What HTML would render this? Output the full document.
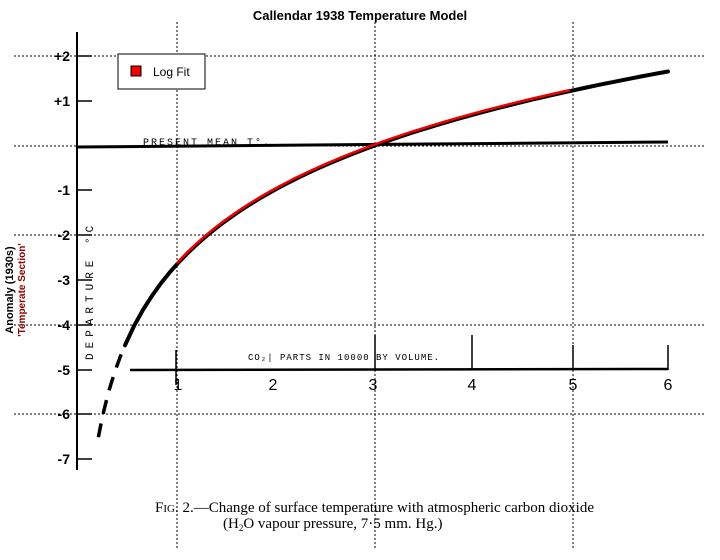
<!DOCTYPE html>
<html><head><meta charset="utf-8"><style>
body{margin:0;background:#fff}
svg{display:block}
.h{font-family:"Liberation Sans",sans-serif;font-weight:bold}
.s{font-family:"Liberation Serif",serif}
</style></head><body>
<svg id="c" width="720" height="560" viewBox="0 0 720 560" xmlns="http://www.w3.org/2000/svg">
<rect width="720" height="560" fill="#fff"/>
<text x="360" y="20" text-anchor="middle" class="h" font-size="13">Callendar 1938 Temperature Model</text>
<g stroke="#000" stroke-width="1" stroke-dasharray="2,2">
<line x1="14" y1="56" x2="706" y2="56"/><line x1="14" y1="146" x2="706" y2="146"/>
<line x1="14" y1="235" x2="706" y2="235"/><line x1="14" y1="325" x2="706" y2="325"/>
<line x1="14" y1="414" x2="706" y2="414"/>
<line x1="177" y1="22" x2="177" y2="548"/><line x1="375" y1="22" x2="375" y2="548"/>
<line x1="573" y1="22" x2="573" y2="548"/>
</g>
<g stroke="#000" fill="none">
<line x1="77" y1="32" x2="77" y2="470" stroke-width="2"/>
<line x1="77" y1="147" x2="668" y2="142" stroke-width="3"/>
<line x1="130" y1="370" x2="668" y2="369" stroke-width="2.5"/>
<g stroke-width="1.5">
<line x1="77" y1="56" x2="92" y2="56"/><line x1="77" y1="101" x2="92" y2="101"/>
<line x1="77" y1="190" x2="92" y2="190"/><line x1="77" y1="235" x2="92" y2="235"/>
<line x1="77" y1="280" x2="92" y2="280"/><line x1="77" y1="325" x2="92" y2="325"/>
<line x1="77" y1="370" x2="92" y2="370"/><line x1="77" y1="414" x2="92" y2="414"/>
<line x1="77" y1="459" x2="92" y2="459"/>
<line x1="176" y1="350" x2="176" y2="385"/><line x1="375" y1="335" x2="375" y2="370"/>
<line x1="472" y1="335" x2="472" y2="370"/><line x1="573" y1="345" x2="573" y2="370"/>
<line x1="668" y1="345" x2="668" y2="370"/>
</g>
</g>
<g class="h" font-size="14" font-weight="bold" text-anchor="end">
<text x="70" y="61">+2</text><text x="70" y="106">+1</text><text x="70" y="195">-1</text>
<text x="70" y="240">-2</text><text x="70" y="285">-3</text><text x="70" y="330">-4</text>
<text x="70" y="375">-5</text><text x="70" y="419">-6</text><text x="70" y="464">-7</text>
</g>
<g font-family="Liberation Sans,sans-serif" font-size="16" text-anchor="middle">
<text x="178" y="390">1</text>
<text x="273" y="390">2</text><text x="373" y="390">3</text><text x="472" y="390">4</text>
<text x="573" y="390">5</text><text x="668" y="390">6</text>
</g>
<text x="143" y="145" font-family="Liberation Mono,monospace" font-size="10" letter-spacing="2">PRESENT MEAN T°.</text>
<text x="248" y="360" font-family="Liberation Mono,monospace" font-size="9" letter-spacing="1">CO₂| PARTS IN 10000 BY VOLUME.</text>
<text transform="translate(93,360) rotate(-90)" font-family="Liberation Mono,monospace" font-size="11" letter-spacing="5">DEPARTURE °C</text>
<path id="blk" fill="none" stroke="#000" stroke-width="4" stroke-linecap="round"/>
<path id="dsh" fill="none" stroke="#000" stroke-width="3.5" stroke-dasharray="14,10"/>
<path id="red" fill="none" stroke="#e00" stroke-width="2.5"/>
<rect x="118" y="54" width="87" height="35" fill="#fff" stroke="#000"/>
<rect x="131" y="66" width="10" height="10" fill="#e00" stroke="#000"/>
<text x="153" y="76" font-family="Liberation Sans,sans-serif" font-size="12">Log Fit</text>
<text transform="translate(13,290) rotate(-90)" text-anchor="middle" class="h" font-size="11">Anomaly (1930s)</text>
<text transform="translate(25,290) rotate(-90)" text-anchor="middle" class="h" font-size="10" fill="#8b0000">'Temperate Section'</text>
<text x="155" y="512" class="s" font-size="15">F<tspan font-size="11">IG</tspan>. 2.—Change of surface temperature with atmospheric carbon dioxide</text>
<text x="223" y="528" class="s" font-size="15">(H<tspan font-size="9" dy="3">2</tspan><tspan dy="-3">O vapour pressure, 7·5 mm. Hg.)</tspan></text>
</svg>
<script>
function P(c0,c1,o){var d="";for(var i=0;i<=60;i++){var c=c0+(c1-c0)*i/60;var T=2.4*Math.log(c/3);var x=177+98.2*(c-1),y=146-44.8*T-(o||0);d+=(i?"L":"M")+x.toFixed(1)+","+y.toFixed(1);}return d;}
document.getElementById("blk").setAttribute("d",P(0.47,6.0));
document.getElementById("dsh").setAttribute("d",P(0.2,0.5));
document.getElementById("red").setAttribute("d",P(1.0,5.0,1));
</script>
</body></html>
